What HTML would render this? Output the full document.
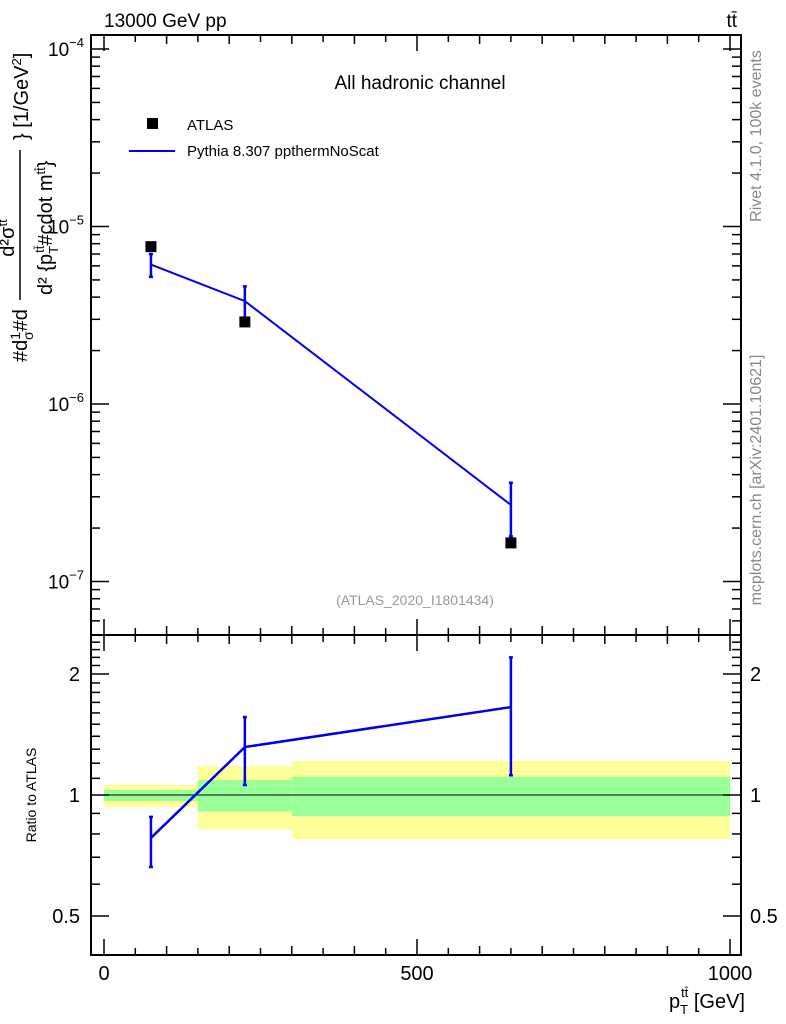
<!DOCTYPE html>
<html><head><meta charset="utf-8"><style>
html,body{margin:0;padding:0;background:#fff;}
svg{display:block;font-family:"Liberation Sans",sans-serif;}
</style></head><body>
<svg id="c" width="786" height="1024" viewBox="0 0 786 1024">
<g id="bands"></g><g id="axes"></g><g id="marks"></g>
<text x="104" y="27" font-size="19">13000 GeV pp</text>
<text x="737" y="27" font-size="19" text-anchor="end">tt̄</text>
<text x="420" y="89" font-size="19" text-anchor="middle">All hadronic channel</text>
<rect x="147" y="118" width="11" height="11" fill="#000"/>
<text x="187" y="130" font-size="15">ATLAS</text>
<line x1="129" y1="151" x2="175" y2="151" stroke="#0000ee" stroke-width="2"/>
<text x="187" y="156" font-size="15">Pythia 8.307 ppthermNoScat</text>
<text x="415" y="605" font-size="14" fill="#999" text-anchor="middle">(ATLAS_2020_I1801434)</text>
<text transform="translate(761,136) rotate(-90)" font-size="16" fill="#888" text-anchor="middle">Rivet 4.1.0,  100k events</text>
<text transform="translate(761,480) rotate(-90)" font-size="16" fill="#888" text-anchor="middle">mcplots.cern.ch [arXiv:2401.10621]</text>
<g font-size="20">
<text transform="translate(27,362) rotate(-90)" text-anchor="start">#d<tspan font-size="14" dy="-7">1</tspan><tspan font-size="14" dx="-8" dy="13">σ</tspan><tspan dy="-6">#d</tspan></text>
<line x1="20" y1="300" x2="20" y2="150" stroke="#000" stroke-width="1.5"/>
<text transform="translate(14,238) rotate(-90)" text-anchor="middle" font-size="20">d²σ<tspan font-size="13" dy="-7">tt</tspan></text>
<text transform="translate(52,295) rotate(-90)" text-anchor="start" font-size="20">d² {p<tspan font-size="13" dy="6">T</tspan><tspan font-size="13" dx="-7" dy="-14">tt̄</tspan><tspan dy="8">#cdot m</tspan><tspan font-size="13" dy="-7">tt̄</tspan><tspan dy="7">}</tspan></text>
<text transform="translate(28,140) rotate(-90)" text-anchor="start">} [1/GeV<tspan font-size="13" dy="-7">2</tspan><tspan dy="7">]</tspan></text>
</g>
<text transform="translate(36,795) rotate(-90)" font-size="14" text-anchor="middle">Ratio to ATLAS</text>
<text x="745" y="1008" font-size="20" text-anchor="end">p<tspan font-size="13" dy="6">T</tspan><tspan font-size="13" dx="-7" dy="-17">tt̄</tspan><tspan dy="11"> [GeV]</tspan></text>
</svg>
<script>
const binEdges=[0,150,300,1000];
const binCenters=[75,225,650];
const atlasValues=[7.7e-6,2.9e-6,1.65e-7];
const mcValues=[6.1e-6,3.8e-6,2.7e-7];
const mcErrLow=[5.2e-6,3.0e-6,1.8e-7];
const mcErrHigh=[7.0e-6,4.6e-6,3.6e-7];
const ratioValues=[0.782,1.316,1.655];
const ratioErrLow=[0.662,1.059,1.12];
const ratioErrHigh=[0.882,1.563,2.2];
const bandYellowLow=[0.934,0.82,0.777];
const bandYellowHigh=[1.059,1.18,1.215];
const bandGreenLow=[0.966,0.91,0.887];
const bandGreenHigh=[1.029,1.09,1.11];
const xTickLabels=[0,500,1000];
const yTickExps=[-4,-5,-6,-7];
const ratioTickLabels=[0.5,1,2];

const NS="http://www.w3.org/2000/svg";
const X0=91,X1=741,MT=35,MB=635,RB=955;
function xs(v){return 104+v*0.626;}
function ys(v){return 49+(-4-Math.log10(v))*177.5;}
function yr(v){return 795-Math.log2(v)*121;}
function mk(parent,tag,attrs){const e=document.createElementNS(NS,tag);for(const k in attrs)e.setAttribute(k,attrs[k]);document.getElementById(parent).appendChild(e);return e;}

for(let i=0;i<3;i++){
 let e=mk('bands','rect',{x:xs(binEdges[i]),y:yr(bandYellowHigh[i]),width:xs(binEdges[i+1])-xs(binEdges[i]),height:yr(bandYellowLow[i])-yr(bandYellowHigh[i]),fill:'#ffff99'});
 
 
 e=mk('bands','rect',{x:xs(binEdges[i]),y:yr(bandGreenHigh[i]),width:xs(binEdges[i+1])-xs(binEdges[i]),height:yr(bandGreenLow[i])-yr(bandGreenHigh[i]),fill:'#99ff99'});
 
 
}
let ul=mk('bands','line',{x1:xs(0),x2:xs(1000),y1:yr(1),y2:yr(1),stroke:'#000','stroke-width':1});



let f=mk('axes','rect',{x:X0,y:MT,width:X1-X0,height:MB-MT,fill:'none',stroke:'#000','stroke-width':2});


f=mk('axes','rect',{x:X0,y:MB,width:X1-X0,height:RB-MB,fill:'none',stroke:'#000','stroke-width':2});



for(let v=0;v<=1000;v+=50){
 const x=xs(v),L=(v%500===0)?16:(v%100===0?9:7);
 for(const [yb,d] of [[MT,1],[MB,-1],[MB,1],[RB,-1]]){
  mk('axes','line',{x1:x,x2:x,y1:yb,y2:yb+d*L,stroke:'#000','stroke-width':1.5});
 }
}
for(const v of xTickLabels){
 const t=mk('axes','text',{x:xs(v),y:980,'font-size':20,'text-anchor':'middle'});t.textContent=v;
 
 
}
for(let e=-8;e<=-4;e++){
 for(let m=1;m<10;m++){
  const v=m*Math.pow(10,e),y=ys(v);
  if(y<MT||y>MB)continue;
  const L=m===1?18:9;
  mk('axes','line',{x1:X0,x2:X0+L,y1:y,y2:y,stroke:'#000','stroke-width':1.5});
  mk('axes','line',{x1:X1,x2:X1-L,y1:y,y2:y,stroke:'#000','stroke-width':1.5});
 }
}
for(const e of yTickExps){
 const t=mk('axes','text',{x:84,y:ys(Math.pow(10,e))+7,'font-size':19,'text-anchor':'end'});
 t.innerHTML='10<tspan font-size="13" dy="-9">−'+(-e)+'</tspan>';
 
 
}
for(let v=0.4;v<=2.55;v+=0.1){
 const vv=Math.round(v*10)/10,y=yr(vv);
 if(y<MB||y>RB)continue;
 const L=(vv===0.5||vv===1||vv===2)?18:9;
 mk('axes','line',{x1:X0,x2:X0+L,y1:y,y2:y,stroke:'#000','stroke-width':1.5});
 mk('axes','line',{x1:X1,x2:X1-L,y1:y,y2:y,stroke:'#000','stroke-width':1.5});
}
for(const v of ratioTickLabels){
 let t=mk('axes','text',{x:80,y:yr(v)+7,'font-size':20,'text-anchor':'end'});t.textContent=v;
 
 
 t=mk('axes','text',{x:750,y:yr(v)+7,'font-size':20});t.textContent=v;
 
 
}

let p=mk('marks','polyline',{points:binCenters.map((c,i)=>xs(c)+','+ys(mcValues[i])).join(' '),fill:'none',stroke:'#0000ee','stroke-width':2});


p=mk('marks','polyline',{points:binCenters.map((c,i)=>xs(c)+','+yr(ratioValues[i])).join(' '),fill:'none',stroke:'#0000ee','stroke-width':2.5});


for(let i=0;i<3;i++){
 const x=xs(binCenters[i]);
 let e=mk('marks','path',{d:`M${x-2},${ys(mcErrLow[i])}H${x+2}M${x},${ys(mcErrLow[i])}V${ys(mcErrHigh[i])}M${x-2},${ys(mcErrHigh[i])}H${x+2}`,stroke:'#0000ee','stroke-width':2.5,fill:'none'});
 
 
 e=mk('marks','path',{d:`M${x-2},${yr(ratioErrLow[i])}H${x+2}M${x},${yr(ratioErrLow[i])}V${yr(ratioErrHigh[i])}M${x-2},${yr(ratioErrHigh[i])}H${x+2}`,stroke:'#0000ee','stroke-width':2.5,fill:'none'});
 
 
 e=mk('marks','rect',{x:x-5.5,y:ys(atlasValues[i])-5.5,width:11,height:11,fill:'#000'});
 
 
}
</script>
</body></html>
